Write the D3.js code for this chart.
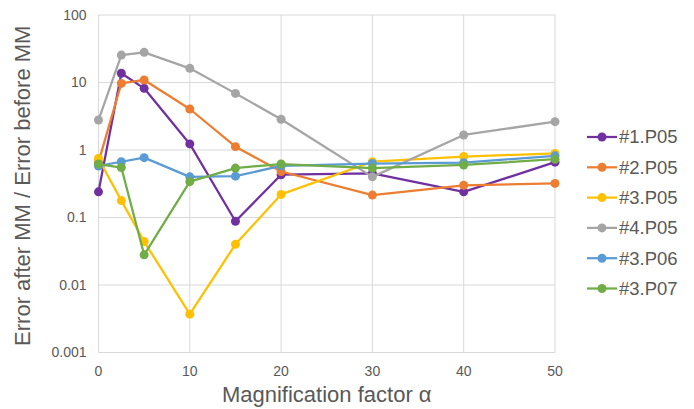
<!DOCTYPE html>
<html>
<head>
<meta charset="utf-8">
<script src="https://cdn.jsdelivr.net/npm/d3@7"></script>
<style>
  body { margin: 0; background: #fff; }
  svg text { font-family: "Liberation Sans", Arial, sans-serif; fill: #595959; }
</style>
</head>
<body>
<div id="chart"></div>
<script>
var width = 694,
    height = 409;

// x values (magnification factor)
var alphas = [0, 2.5, 5, 10, 15, 20, 30, 40, 50];

var seriesNames = ["#1.P05", "#2.P05", "#3.P05", "#4.P05", "#3.P06", "#3.P07"];
var seriesColors = ["#7030A0", "#ED7D31", "#FFC000", "#A5A5A5", "#5B9BD5", "#70AD47"];

var p1_05 = [0.24, 13.7, 8.2, 1.23, 0.088, 0.43, 0.45, 0.24, 0.66];
var p2_05 = [0.66, 9.7, 10.9, 4.05, 1.12, 0.48, 0.215, 0.30, 0.32];
var p3_05 = [0.75, 0.178, 0.044, 0.0037, 0.040, 0.22, 0.67, 0.80, 0.89];
var p4_05 = [2.78, 25.5, 28, 16.2, 6.9, 2.85, 0.40, 1.67, 2.63];
var p3_06 = [0.58, 0.67, 0.77, 0.40, 0.41, 0.58, 0.63, 0.65, 0.82];
var p3_07 = [0.62, 0.55, 0.028, 0.34, 0.54, 0.62, 0.54, 0.60, 0.73];

var yTicks = [0.001, 0.01, 0.1, 1, 10, 100];
var yTickLabels = ["0.001", "0.01", "0.1", "1", "10", "100"];
var xTicks = [0, 10, 20, 30, 40, 50];

var allSeries = [p1_05, p2_05, p3_05, p4_05, p3_06, p3_07];

var margin = {left: 98.5, right: 139, top: 15, bottom: 56.5};

var x = d3.scaleLinear()
    .domain([0, 50])
    .range([margin.left, width - margin.right]);

var y = d3.scaleLog()
    .domain([0.001, 100])
    .range([height - margin.bottom, margin.top]);

var svg = d3.select("#chart").append("svg")
    .attr("width", width)
    .attr("height", height);

// grid lines
svg.append("g").selectAll("line")
    .data(yTicks)
  .enter().append("line")
    .attr("x1", x(0)).attr("x2", x(50))
    .attr("y1", function(d) { return y(d); })
    .attr("y2", function(d) { return y(d); })
    .style("stroke", "#d9d9d9")
    .style("stroke-width", 1);

svg.append("g").selectAll("line")
    .data(xTicks)
  .enter().append("line")
    .attr("x1", function(d) { return x(d); })
    .attr("x2", function(d) { return x(d); })
    .attr("y1", y(0.001)).attr("y2", y(100))
    .style("stroke", "#d9d9d9")
    .style("stroke-width", 1);

// tick labels
svg.append("g").selectAll("text")
    .data(yTicks)
  .enter().append("text")
    .attr("x", x(0) - 12)
    .attr("y", function(d) { return y(d); })
    .attr("dy", "0.35em")
    .style("text-anchor", "end")
    .style("font-size", "14px")
    .text(function(d, i) { return yTickLabels[i]; });

svg.append("g").selectAll("text")
    .data(xTicks)
  .enter().append("text")
    .attr("x", function(d) { return x(d); })
    .attr("y", y(0.001) + 19)
    .attr("dy", "0.35em")
    .style("text-anchor", "middle")
    .style("font-size", "14px")
    .text(function(d) { return d; });

// axis titles
svg.append("text")
    .attr("transform", "translate(30," + ((y(0.001) + y(100)) / 2 + 2) + ")rotate(-90)")
    .style("text-anchor", "middle")
    .style("font-size", "22px")
    .text("Error after MM / Error before MM");

svg.append("text")
    .attr("x", (x(0) + x(50)) / 2)
    .attr("y", 402)
    .style("text-anchor", "middle")
    .style("font-size", "22px")
    .text("Magnification factor α");

var line = d3.line()
    .x(function(d, i) { return x(alphas[i]); })
    .y(function(d) { return y(d); });

var groups = svg.selectAll(".series")
    .data(allSeries)
  .enter().append("g")
    .attr("class", "series");

groups.append("path")
    .attr("d", line)
    .style("fill", "none")
    .style("stroke", function(d, i) { return seriesColors[i]; })
    .style("stroke-width", 2.25)
    .style("stroke-linejoin", "round");

groups.each(function(s, i) {
  d3.select(this).selectAll("circle")
      .data(s)
    .enter().append("circle")
      .attr("cx", function(d, j) { return x(alphas[j]); })
      .attr("cy", function(d) { return y(d); })
      .attr("r", 4.5)
      .style("fill", seriesColors[i]);
});

// legend
var legend = svg.selectAll(".legend")
    .data(seriesNames)
  .enter().append("g")
    .attr("class", "legend")
    .attr("transform", function(d, i) { return "translate(587," + (137 + i * 30.3) + ")"; });

legend.append("line")
    .attr("x1", 0).attr("x2", 30)
    .style("stroke", function(d, i) { return seriesColors[i]; })
    .style("stroke-width", 2.25);

legend.append("circle")
    .attr("cx", 15)
    .attr("r", 4.5)
    .style("fill", function(d, i) { return seriesColors[i]; });

legend.append("text")
    .attr("x", 32)
    .attr("dy", "0.35em")
    .style("font-size", "18.5px")
    .text(function(d) { return d; });
</script>
</body>
</html>
